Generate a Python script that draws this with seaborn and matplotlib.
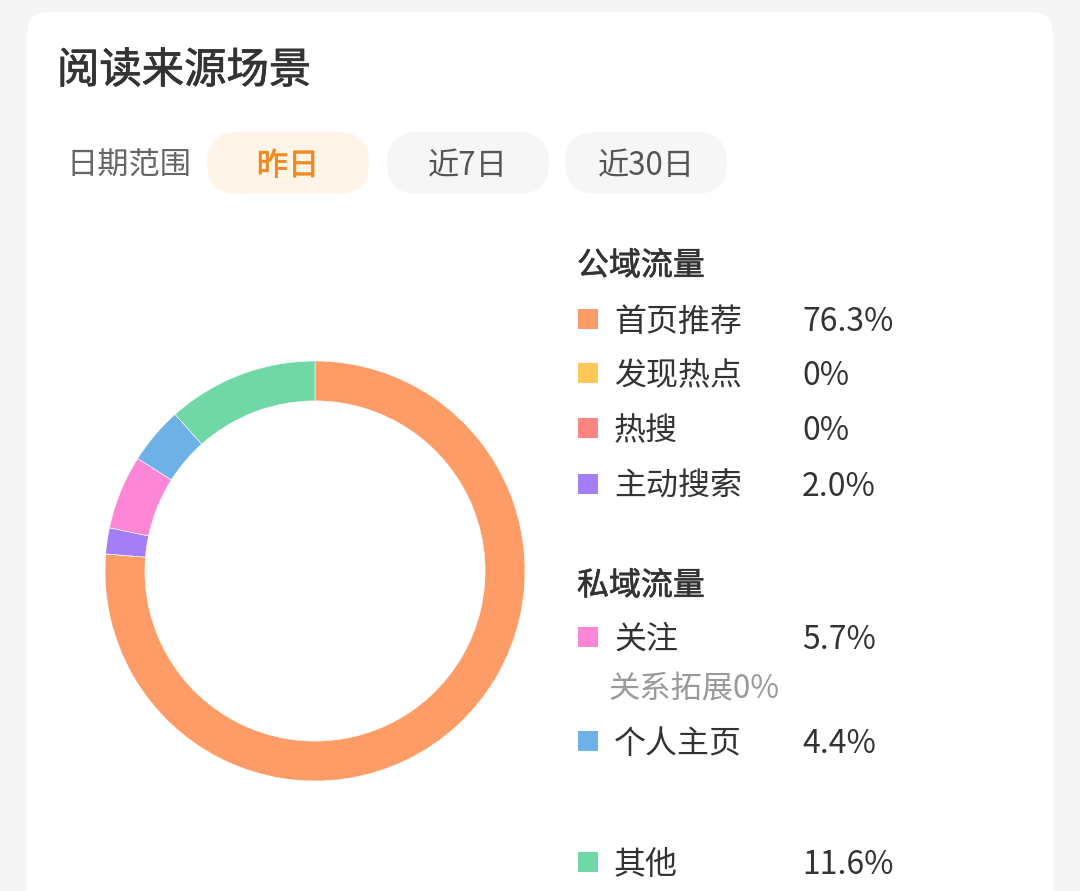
import matplotlib
matplotlib.use("Agg")
import matplotlib.pyplot as plt
from matplotlib.patches import FancyBboxPatch, Rectangle
import matplotlib.patheffects as pe
import seaborn as sns

# ---- data ----
categories = ["首页推荐", "发现热点", "热搜", "主动搜索", "关注", "个人主页", "其他"]
shares = [76.3, 0.0, 0.0, 2.0, 5.7, 4.4, 11.6]
value_labels = ["76.3%", "0%", "0%", "2.0%", "5.7%", "4.4%", "11.6%"]
groups = ["公域流量", "公域流量", "公域流量", "公域流量", "私域流量", "私域流量", "其他"]
colors = ["#FD9C66", "#FFC65A", "#FC8582", "#A47EF7", "#FD86D6", "#6DB1E6", "#6FD8A6"]
title = "阅读来源场景"
range_label = "日期范围"
range_options = ["昨日", "近7日", "近30日"]
sub_note = "关系拓展0%"

sns.set_theme(style="white")
plt.rcParams["font.family"] = ["Noto Sans CJK SC", "DejaVu Sans"]
palette = sns.color_palette(colors)

W, H = 1080, 891
fig = plt.figure(figsize=(W / 100, H / 100), dpi=100)
fig.patch.set_facecolor("#F5F5F5")


def medium(color, lw):
    return [pe.withStroke(linewidth=lw, foreground=color)]


# overlay axes in pixel coordinates (y downwards)
ov = fig.add_axes([0, 0, 1, 1])
ov.set_xlim(0, W)
ov.set_ylim(H, 0)
ov.axis("off")
ov.set_zorder(0)

# white card
ov.add_patch(FancyBboxPatch((27, 12), 1026, 960, boxstyle="round,pad=0,rounding_size=22",
                            facecolor="white", edgecolor="none"))

dy = 3
ov.text(57, 68 + dy, title, fontsize=30.5, color="#333333", va="center", ha="left",
        path_effects=medium("#333333", 0.55))
ov.text(67, 163 + dy, range_label, fontsize=22.5, color="#666666", va="center", ha="left")

pill_x = [207, 387, 565]
pill_w = 162
pill_fill = ["#FFF4E8", "#F6F6F6", "#F6F6F6"]
pill_text = ["#EE8A1F", "#555555", "#555555"]
for i, opt in enumerate(range_options):
    ov.add_patch(FancyBboxPatch((pill_x[i], 132), pill_w, 62,
                                boxstyle="round,pad=0,rounding_size=31",
                                facecolor=pill_fill[i], edgecolor="none"))
    ov.text(pill_x[i] + pill_w / 2, 163 + dy, opt, fontsize=22.5, color=pill_text[i],
            va="center", ha="center",
            path_effects=medium(pill_text[i], 0.5) if i == 0 else None)

# legend
row_y = [319, 373, 428, 484, 637, 741, 862]
for txt, yy in [("公域流量", 263), ("私域流量", 583)]:
    ov.text(577, yy + dy, txt, fontsize=23, color="#333333", va="center", ha="left",
            path_effects=medium("#333333", 0.45))
for i, cat in enumerate(categories):
    y = row_y[i]
    ov.add_patch(Rectangle((578, y - 10), 20, 20, facecolor=palette[i], edgecolor="none"))
    ov.text(614, y + dy, cat, fontsize=23, color="#333333", va="center", ha="left")
    ov.text(802, y + dy, value_labels[i], fontsize=23, color="#333333", va="center", ha="left")
ov.text(609, 686 + dy, sub_note, fontsize=22.5, color="#9A9A9A", va="center", ha="left")

# donut
cx, cy, r = 315, 571, 210
ax = fig.add_axes([(cx - r) / W, (H - cy - r) / H, 2 * r / W, 2 * r / H])
ax.set_zorder(1)
ax.axis("off")
ax.pie(shares, colors=palette, startangle=90, counterclock=False, radius=1,
       wedgeprops=dict(width=0.19, edgecolor="white", linewidth=0.4))
ax.set_xlim(-1, 1)
ax.set_ylim(-1, 1)
ax.set_aspect("equal")

fig.savefig("out.png", dpi=100, facecolor=fig.get_facecolor())
